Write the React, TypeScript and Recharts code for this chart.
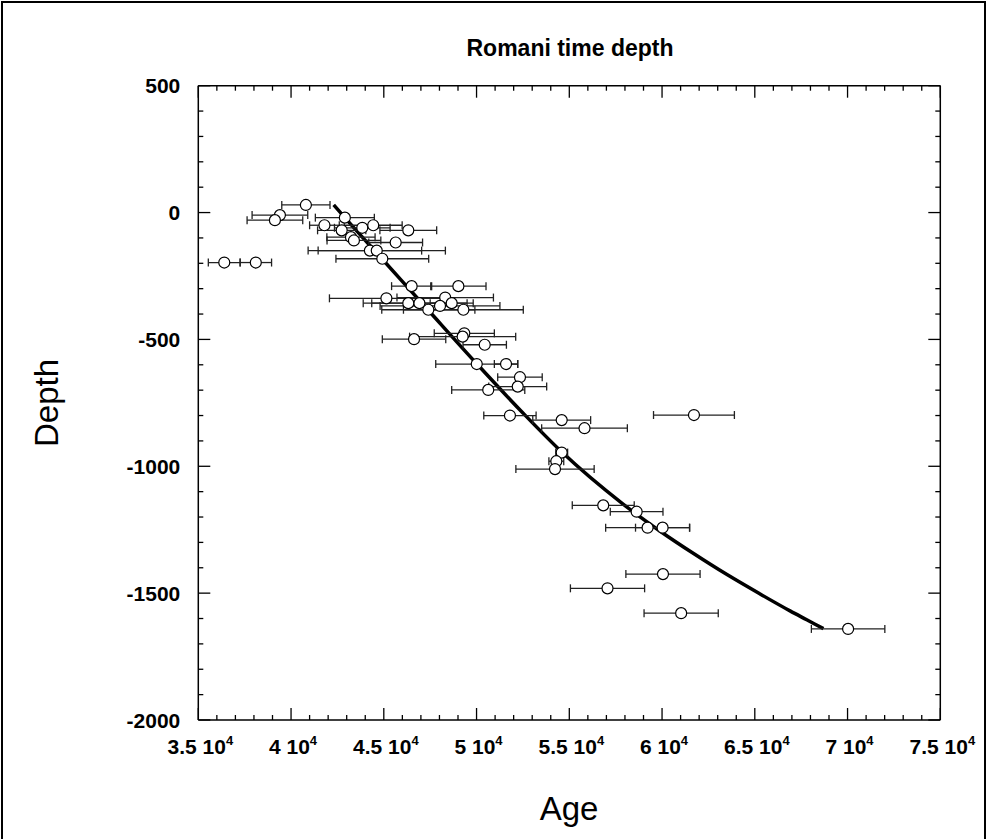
import React from 'react';
import { ComposedChart, Scatter, Line, XAxis, YAxis, ErrorBar } from 'recharts';

// ---- data ----
const pointAge = [
  40800, 39400, 39130, 36400, 38100, 42900, 41800, 42730, 43840, 44430,
  46320, 43230, 43390, 45640, 44250, 44620, 44920, 46500, 49020, 45140,
  48310, 46320, 46920, 48030, 48660, 49290, 47400, 49340, 49250, 46630,
  50440, 50010, 51590, 52340, 52220, 50630, 51800, 54590, 55820, 54590,
  54300, 54230, 56830, 58630, 59220, 60030, 60050, 57060, 61030, 70030,
  61720,
];
const pointDepth = [
  30, -10, -30, -197, -197, -20, -50, -70, -60, -50,
  -70, -97, -110, -118, -150, -150, -182, -290, -290, -338,
  -335, -357, -357, -368, -357, -383, -383, -476, -489, -499,
  -521, -597, -597, -649, -686, -699, -800, -818, -850, -946,
  -980, -1011, -1154, -1179, -1242, -1242, -1425, -1481, -1579, -1641,
  -798,
];
const pointAgeError = [
  1300, 1500, 1500, 860, 850, 1590, 800, 1300, 1500, 1560,
  1530, 1300, 1450, 1450, 2790, 3700, 2500, 1080, 1490, 3070,
  2600, 2430, 2570, 3230, 1160, 3230, 2510, 1620, 2860, 1710,
  1170, 2210, 630, 1200, 1560, 1970, 1410, 1560, 2310, 320,
  400, 2110, 1670, 1420, 2260, 1460, 2000, 2000, 2000, 1980,
  2180,
];
const curveAge = [42300, 42900, 44900, 47400, 50000, 52500, 54600, 57900, 59900, 61700, 63500, 65300, 66900, 67800, 68700];
const curveDepth = [30, -20, -182, -385, -595, -790, -944, -1149, -1256, -1344, -1427, -1504, -1570, -1605, -1640];

const xTicks = [
  35000, 36000, 37000, 38000, 39000, 40000, 41000, 42000, 43000, 44000,
  45000, 46000, 47000, 48000, 49000, 50000, 51000, 52000, 53000, 54000,
  55000, 56000, 57000, 58000, 59000, 60000, 61000, 62000, 63000, 64000,
  65000, 66000, 67000, 68000, 69000, 70000, 71000, 72000, 73000, 74000, 75000,
];
const xMajorTicks = [35000, 40000, 45000, 50000, 55000, 60000, 65000, 70000, 75000];
const xTickLabels = ['3.5', '4', '4.5', '5', '5.5', '6', '6.5', '7', '7.5'];
const yTicks = [
  500, 400, 300, 200, 100, 0, -100, -200, -300, -400, -500, -600, -700, -800, -900,
  -1000, -1100, -1200, -1300, -1400, -1500, -1600, -1700, -1800, -1900, -2000,
];
const yMajorTicks = [500, 0, -500, -1000, -1500, -2000];
const yTickLabels = ['500', '0', '-500', '-1000', '-1500', '-2000'];

const points = pointAge.map((a, i) => ({ age: a, depth: pointDepth[i], err: pointAgeError[i] }));
const curve = curveAge.map((a, i) => ({ age: a, depth: curveDepth[i] }));

const FONT = '"Liberation Sans", Arial, Helvetica, sans-serif';
const MAJOR = 12;
const MINOR = 5;

function BottomTick(props: any) {
  const { x, y, payload } = props;
  const idx = xMajorTicks.indexOf(payload.value);
  const major = idx >= 0;
  return (
    <g>
      <line x1={x} y1={y} x2={x} y2={y - (major ? MAJOR : MINOR)} stroke="#000" strokeWidth={1.3} />
      {major && (
        <text x={x + 2} y={y + 34} textAnchor="middle" fontFamily={FONT} fontWeight="bold" fontSize={21} fill="#000">
          {xTickLabels[idx] + ' 10'}
          <tspan dy={-9} fontSize={13}>4</tspan>
        </text>
      )}
    </g>
  );
}

function TopTick(props: any) {
  const { x, y, payload } = props;
  const major = xMajorTicks.indexOf(payload.value) >= 0;
  return <line x1={x} y1={y} x2={x} y2={y + (major ? MAJOR : MINOR)} stroke="#000" strokeWidth={1.3} />;
}

function LeftTick(props: any) {
  const { x, y, payload } = props;
  const idx = yMajorTicks.indexOf(payload.value);
  const major = idx >= 0;
  return (
    <g>
      <line x1={x} y1={y} x2={x + (major ? MAJOR : MINOR)} y2={y} stroke="#000" strokeWidth={1.3} />
      {major && (
        <text x={x - 18} y={y} dy={7.5} textAnchor="end" fontFamily={FONT} fontWeight="bold" fontSize={21} fill="#000">
          {yTickLabels[idx]}
        </text>
      )}
    </g>
  );
}

function RightTick(props: any) {
  const { x, y, payload } = props;
  const major = yMajorTicks.indexOf(payload.value) >= 0;
  return <line x1={x} y1={y} x2={x - (major ? MAJOR : MINOR)} y2={y} stroke="#000" strokeWidth={1.3} />;
}

function Dot(props: any) {
  const { cx, cy } = props;
  if (cx == null || cy == null) return null;
  return <circle cx={cx} cy={cy} r={5.5} fill="#fff" stroke="#000" strokeWidth={1.2} />;
}

const axisLine = { stroke: '#000', strokeWidth: 1.5 };

export default function App() {
  return (
    <div style={{ position: 'absolute', left: 0, top: 0, width: 987, height: 839, background: '#fff', overflow: 'hidden' }}>
      <div
        style={{
          position: 'absolute',
          left: 1,
          top: 1,
          width: 985,
          height: 860,
          border: '2px solid #000',
          boxSizing: 'border-box',
        }}
      />
      <div style={{ position: 'absolute', left: 0, top: 0 }}>
        <ComposedChart
          width={987}
          height={839}
          margin={{ top: 84.7, right: 45.7, bottom: 79, left: 138.3 }}
        >
          <XAxis
            xAxisId="bottom"
            dataKey="age"
            type="number"
            orientation="bottom"
            domain={[35000, 75000]}
            ticks={xTicks}
            interval={0}
            allowDataOverflow
            height={40}
            tickSize={0}
            tickMargin={0}
            tickLine={false}
            axisLine={axisLine}
            tick={<BottomTick />}
          />
          <XAxis
            xAxisId="top"
            dataKey="age"
            type="number"
            orientation="top"
            domain={[35000, 75000]}
            ticks={xTicks}
            interval={0}
            allowDataOverflow
            height={1}
            tickSize={0}
            tickMargin={0}
            tickLine={false}
            axisLine={axisLine}
            tick={<TopTick />}
          />
          <YAxis
            yAxisId="left"
            type="number"
            orientation="left"
            domain={[-2000, 500]}
            ticks={yTicks}
            interval={0}
            allowDataOverflow
            width={60}
            tickSize={0}
            tickMargin={0}
            tickLine={false}
            axisLine={axisLine}
            tick={<LeftTick />}
          />
          <YAxis
            yAxisId="right"
            type="number"
            orientation="right"
            domain={[-2000, 500]}
            ticks={yTicks}
            interval={0}
            allowDataOverflow
            width={1}
            tickSize={0}
            tickMargin={0}
            tickLine={false}
            axisLine={axisLine}
            tick={<RightTick />}
          />
          <Line
            data={curve}
            xAxisId="bottom"
            yAxisId="left"
            dataKey="depth"
            type="monotone"
            stroke="#000"
            strokeWidth={3.5}
            dot={false}
            activeDot={false}
            isAnimationActive={false}
          />
          <Scatter
            data={points}
            xAxisId="bottom"
            yAxisId="left"
            dataKey="depth"
            shape={<Dot />}
            isAnimationActive={false}
          >
            <ErrorBar dataKey="err" direction="x" width={4} stroke="#222" strokeWidth={1.3} isAnimationActive={false} />
          </Scatter>
        </ComposedChart>
      </div>
      <svg width={987} height={839} style={{ position: 'absolute', left: 0, top: 0, pointerEvents: 'none' }}>
        <text x={570} y={56} textAnchor="middle" fontFamily={FONT} fontWeight="bold" fontSize={23} fill="#000">
          Romani time depth
        </text>
        <text
          x={58}
          y={403}
          textAnchor="middle"
          transform="rotate(-90 58 403)"
          fontFamily={FONT}
          fontSize={33}
          fill="#000"
        >
          Depth
        </text>
        <text x={569} y={820} textAnchor="middle" fontFamily={FONT} fontSize={33} fill="#000">
          Age
        </text>
      </svg>
    </div>
  );
}
